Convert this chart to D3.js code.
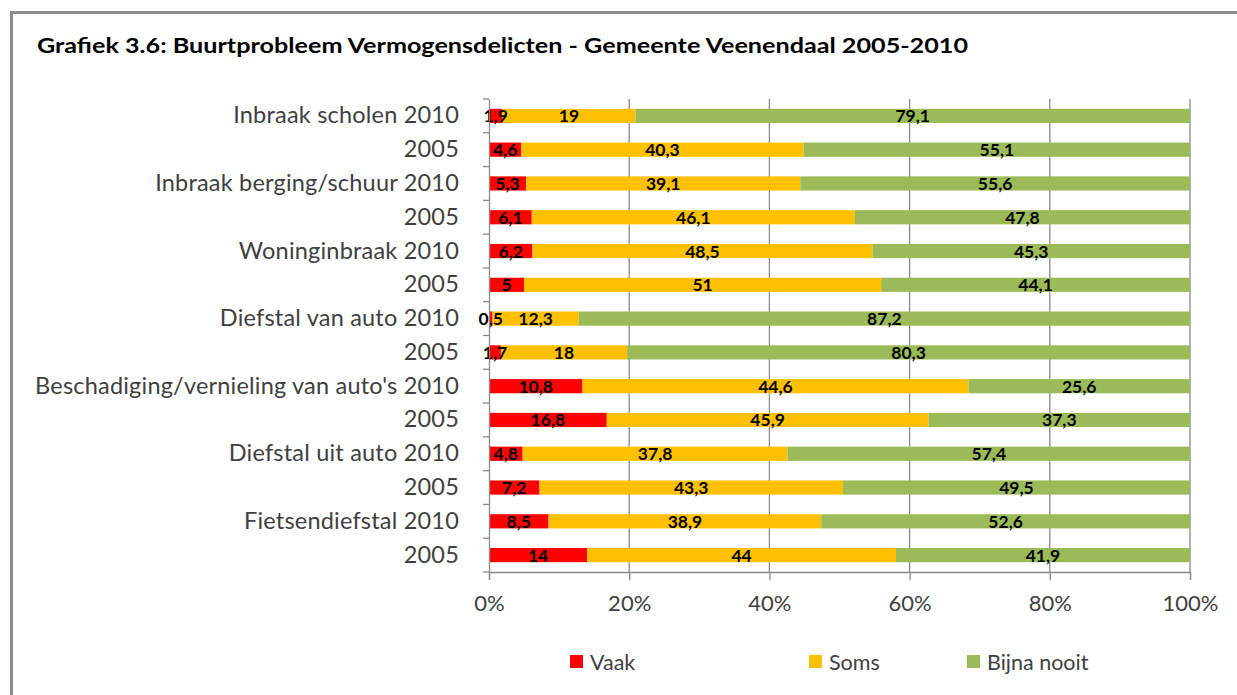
<!DOCTYPE html>
<html>
<head>
<meta charset="utf-8">
<script src="https://cdn.jsdelivr.net/npm/d3@7"></script>
<style>
  body { margin: 0; background: #fff; }
  svg { display: block; }
</style>
</head>
<body>
<div id="chart"></div>
<script>
// rows from top to bottom
var categories = [
    "Inbraak scholen 2010", "2005",
    "Inbraak berging/schuur 2010", "2005",
    "Woninginbraak 2010", "2005",
    "Diefstal van auto 2010", "2005",
    "Beschadiging/vernieling van auto's 2010", "2005",
    "Diefstal uit auto 2010", "2005",
    "Fietsendiefstal 2010", "2005"
];
var vaak = [1.9, 4.6, 5.3, 6.1, 6.2, 5, 0.5, 1.7, 10.8, 16.8, 4.8, 7.2, 8.5, 14];
var soms = [19, 40.3, 39.1, 46.1, 48.5, 51, 12.3, 18, 44.6, 45.9, 37.8, 43.3, 38.9, 44];
var bijnaNooit = [79.1, 55.1, 55.6, 47.8, 45.3, 44.1, 87.2, 80.3, 25.6, 37.3, 57.4, 49.5, 52.6, 41.9];
var seriesNames = ["Vaak", "Soms", "Bijna nooit"];
var colors = ["#ff0000", "#ffc000", "#9bbb59"];
var ticks = [0, 0.2, 0.4, 0.6, 0.8, 1];

var w = 1237, h = 695;
var plotL = 489, plotR = 1190, plotT = 99, plotB = 572;
var font = "Lato, 'Open Sans', sans-serif";

var svg = d3.select("#chart").append("svg")
    .attr("width", w).attr("height", h)
    .style("font-family", font);

// outer frame (only left and top edges are visible in the crop)
svg.append("path")
    .attr("d", "M11.5," + h + "V12.5H" + w)
    .attr("fill", "none").attr("stroke", "#8c8c8c").attr("stroke-width", 3);

svg.append("text")
    .attr("x", 37).attr("y", 53)
    .attr("font-weight", "bold").attr("font-size", 21.5)
    .attr("textLength", 931).attr("lengthAdjust", "spacingAndGlyphs")
    .attr("fill", "#000")
    .text("Grafiek 3.6: Buurtprobleem Vermogensdelicten - Gemeente Veenendaal 2005-2010");

var rows = categories.map(function(c, i) {
    var vals = [vaak[i], soms[i], bijnaNooit[i]];
    var tot = d3.sum(vals);
    var acc = 0;
    return vals.map(function(v, k) {
        var s = { row: i, k: k, v: v, x0: acc / tot, x1: (acc + v) / tot };
        acc += v;
        return s;
    });
});

var x = d3.scaleLinear().domain([0, 1]).range([plotL, plotR]);
var y = d3.scaleBand().domain(d3.range(categories.length)).range([plotT, plotB])
    .paddingInner(0.58).paddingOuter(0.29);

// gridlines
svg.append("g").selectAll("line")
    .data(ticks.slice(1))
    .enter().append("line")
    .attr("x1", function(d) { return x(d); }).attr("x2", function(d) { return x(d); })
    .attr("y1", plotT).attr("y2", plotB)
    .attr("stroke", "#8a8a8a").attr("stroke-width", 1.3);

var segs = [].concat.apply([], rows);

svg.append("g").selectAll("rect")
    .data(segs)
    .enter().append("rect")
    .attr("x", function(d) { return x(d.x0); })
    .attr("width", function(d) { return x(d.x1) - x(d.x0); })
    .attr("y", function(d) { return y(d.row); })
    .attr("height", y.bandwidth())
    .attr("fill", function(d) { return colors[d.k]; });

svg.append("g").selectAll("text")
    .data(segs)
    .enter().append("text")
    .attr("x", function(d) { return (x(d.x0) + x(d.x1)) / 2; })
    .attr("y", function(d) { return y(d.row) + y.bandwidth() / 2; })
    .attr("dy", "0.37em")
    .attr("text-anchor", "middle")
    .attr("font-weight", "bold").attr("font-size", 17.5)
    .attr("fill", "#000")
    .text(function(d) { return String(d.v).replace(".", ","); });

// y axis
var yAxis = d3.axisLeft(y).tickSize(0).tickPadding(30)
    .tickFormat(function(i) { return categories[i]; });
var gy = svg.append("g").attr("transform", "translate(" + plotL + ",0)").call(yAxis);
gy.select(".domain").attr("stroke", "#8a8a8a").attr("stroke-width", 1.3);
gy.selectAll("text").attr("font-size", 23.5).attr("fill", "#404040")
    .attr("letter-spacing", 0.2).attr("font-family", font);
gy.selectAll(".sep")
    .data(d3.range(categories.length + 1))
    .enter().append("line").attr("class", "sep")
    .attr("x1", -6).attr("x2", 0)
    .attr("y1", function(i) { return plotT + i * (plotB - plotT) / categories.length; })
    .attr("y2", function(i) { return plotT + i * (plotB - plotT) / categories.length; })
    .attr("stroke", "#8a8a8a").attr("stroke-width", 1.3);

// x axis
var xAxis = d3.axisBottom(x).tickValues(ticks).tickSize(8).tickPadding(15)
    .tickFormat(d3.format(".0%"));
var gx = svg.append("g").attr("transform", "translate(0," + plotB + ")").call(xAxis);
gx.select(".domain").attr("stroke", "#8a8a8a").attr("stroke-width", 1.3);
gx.selectAll("line").attr("stroke", "#8a8a8a").attr("stroke-width", 1.3);
gx.selectAll("text").attr("font-size", 22).attr("fill", "#404040")
    .attr("font-family", font);

// legend
var legendX = [570, 809, 967];
var lg = svg.append("g").selectAll("g")
    .data(seriesNames)
    .enter().append("g")
    .attr("transform", function(d, i) { return "translate(" + legendX[i] + ",655)"; });
lg.append("rect").attr("width", 13).attr("height", 13)
    .attr("fill", function(d, i) { return colors[i]; });
lg.append("text").attr("x", 20).attr("y", 15)
    .attr("font-size", 21.5).attr("fill", "#404040")
    .text(function(d) { return d; });
</script>
</body>
</html>
